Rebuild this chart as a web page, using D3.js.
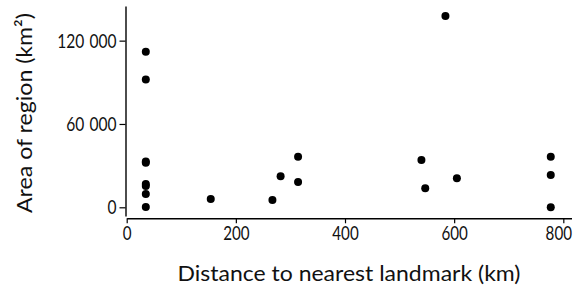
<!DOCTYPE html>
<html><head><meta charset="utf-8">
<script src="https://cdn.jsdelivr.net/npm/d3@7"></script>
<style>body{margin:0;background:#fff}svg{display:block}</style>
</head><body>
<svg id="c" width="576" height="288"></svg>
<script>
const distance = [35, 35, 35, 35, 35, 35, 35, 35, 154, 267, 282, 314, 314, 540, 547, 584, 605, 777, 777, 777];
const area = [112000, 92000, 33000, 32100, 16800, 15300, 9600, 300, 6000, 5300, 22300, 36400, 18200, 34000, 13700, 137700, 20900, 36400, 23300, 0];
const xTicks = [0, 200, 400, 600, 800];
const yTicks = [0, 60000, 120000];
const xTitle = "Distance to nearest landmark (km)";
const yTitle = "Area of region (km²)";

const FONT = "Lato, sans-serif";
const svg = d3.select("#c");
const x = d3.scaleLinear().domain([0, 815]).range([126.7, 571.5]);
const y = d3.scaleLinear().domain([-6300, 145000]);
y.range([207.3 + 6300 * 83.33 / 60000, 207.3 - 145000 * 83.33 / 60000]);
const fmt = v => d3.format(",")(v).replace(/,/g, "\u2004");

function condense(sel, k) {
  sel.each(function() {
    const w = this.getComputedTextLength();
    d3.select(this).attr("textLength", w * k).attr("lengthAdjust", "spacingAndGlyphs");
  });
}

const gx = svg.append("g").attr("transform", "translate(0,218.3)")
  .call(d3.axisBottom(x).tickValues(xTicks).tickSize(5).tickPadding(4).tickSizeOuter(0));
const gy = svg.append("g").attr("transform", "translate(125.5,0)")
  .call(d3.axisLeft(y).tickValues(yTicks).tickFormat(fmt).tickSize(6).tickPadding(3).tickSizeOuter(0));
[gx, gy].forEach(g => {
  g.select(".domain").attr("stroke", "#000").attr("stroke-width", 1.4);
  g.selectAll(".tick line").attr("stroke", "#000").attr("stroke-width", 1.2);
  g.selectAll(".tick text").attr("fill", "#111").style("font-family", FONT).style("font-size", "18.5px");
});
gy.selectAll(".tick text").attr("dy", "0.36em");
condense(gx.selectAll(".tick text"), 0.82);
condense(gy.selectAll(".tick text"), 0.84);
gx.selectAll(".tick text").filter(d => d === 800).attr("dx", -5);

svg.append("g").selectAll("circle").data(distance).join("circle")
  .attr("cx", d => x(d)).attr("cy", (d, i) => y(area[i])).attr("r", 4).attr("fill", "#000");

svg.append("text").attr("x", 349).attr("y", 281).attr("text-anchor", "middle")
  .style("font-family", FONT).style("font-size", "22px").attr("fill", "#111").text(xTitle)
  .attr("textLength", 343).attr("lengthAdjust", "spacingAndGlyphs");
svg.append("text").attr("transform", "translate(32,113) rotate(-90)").attr("text-anchor", "middle")
  .style("font-family", FONT).style("font-size", "22px").attr("fill", "#111").text(yTitle)
  .attr("textLength", 200).attr("lengthAdjust", "spacingAndGlyphs");
</script>
</body></html>
